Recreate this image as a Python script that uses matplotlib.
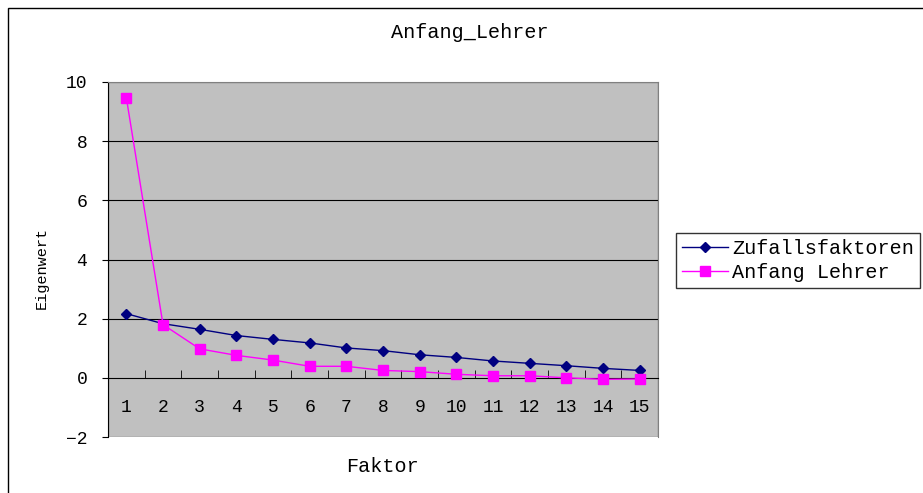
import numpy as np
import matplotlib.pyplot as plt
from matplotlib.patches import Rectangle

faktor = np.arange(1, 16)
zufall = [2.17, 1.83, 1.64, 1.43, 1.30, 1.18, 1.01, 0.92, 0.78, 0.69,
          0.57, 0.49, 0.41, 0.32, 0.25]
anfang_lehrer = [9.47, 1.80, 0.98, 0.76, 0.60, 0.39, 0.39, 0.25, 0.21, 0.12,
                 0.07, 0.07, 0.00, -0.05, -0.04]
y_ticks = [-2, 0, 2, 4, 6, 8, 10]

plt.rcParams['font.family'] = ['Liberation Mono', 'DejaVu Sans']
plt.rcParams['axes.unicode_minus'] = True

fig = plt.figure(figsize=(9.23, 4.93), dpi=100)
ax = fig.add_axes([108 / 923, 1 - 437 / 493, 550 / 923, 355 / 493])
ax.set_facecolor('#C0C0C0')

# Rahmen um das ganze Diagramm
fig.patches.append(Rectangle((8 / 923, -0.01), 1.0, 1 - 8 / 493 + 0.01,
                             transform=fig.transFigure, fill=False,
                             edgecolor='black', linewidth=1.0))

# Gitterlinien
for y in [2, 4, 6, 8]:
    ax.axhline(y, color='black', linewidth=0.8, zorder=1)

ax.plot(faktor, zufall, color='#000080', marker='D', markersize=5.5,
        linewidth=1.0, label='Zufallsfaktoren', zorder=3)
ax.plot(faktor, anfang_lehrer, color='#FF00FF', marker='s', markersize=7,
        linewidth=1.0, label='Anfang Lehrer', zorder=4)

ax.set_xlim(0.5, 15.5)
ax.set_ylim(-2, 10)
ax.set_yticks(y_ticks)
ax.set_yticklabels([str(v).replace('-', '\u2212') for v in y_ticks])

# x-Achse bei 0
ax.spines['bottom'].set_position(('data', 0))
ax.spines['bottom'].set_color('black')
ax.spines['left'].set_color('black')
ax.spines['top'].set_color('#808080')
ax.spines['right'].set_color('#808080')
ax.add_patch(Rectangle((0, 0), 1, 1, transform=ax.transAxes, fill=False,
                       edgecolor='#808080', linewidth=1.0, zorder=0))

ax.set_xticks(faktor)
ax.set_xticklabels([str(f) for f in faktor])
ax.set_xticks(np.arange(1.5, 15, 1), minor=True)
ax.tick_params(axis='x', which='major', length=0, pad=15, labelsize=13)
ax.tick_params(axis='x', which='minor', direction='in', length=6,
               color='black')
ax.tick_params(axis='y', which='major', direction='out', length=4,
               labelsize=13, pad=11)

fig.text(42 / 923, 1 - 268 / 493, 'Eigenwert', rotation=90, ha='center',
         va='center', fontsize=11)
fig.text(383 / 923, 1 - 466 / 493, 'Faktor', ha='center', va='center',
         fontsize=14.5)
fig.text(470 / 923, 1 - 33 / 493, 'Anfang_Lehrer', ha='center',
         va='center', fontsize=14.5)

leg = ax.legend(loc='upper left', bbox_to_anchor=(676 / 923, 1 - 233 / 493),
                bbox_transform=fig.transFigure, frameon=True, fancybox=False,
                fontsize=14.5, borderpad=0.3, labelspacing=0.25,
                handlelength=2.3, handletextpad=0.2, borderaxespad=0)
leg.get_frame().set_edgecolor('black')
leg.get_frame().set_linewidth(1.0)

fig.savefig('out.png', dpi=100)
